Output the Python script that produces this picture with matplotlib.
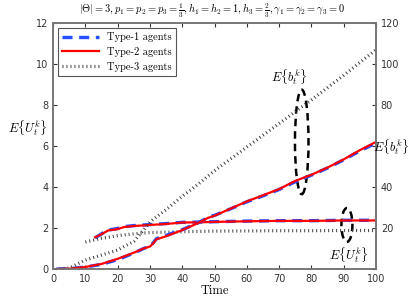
import matplotlib
matplotlib.use("Agg")
import matplotlib.pyplot as plt
import numpy as np
from matplotlib.patches import Ellipse

plt.rcParams['mathtext.fontset'] = 'cm'

# E{U_t^k} curves (left axis)
t_u = [13, 15, 17, 20, 22, 25, 30, 35, 40, 45, 50, 60, 70, 80, 90, 100]
u_type1 = [1.52, 1.72, 1.9, 1.98, 2.07, 2.12, 2.17, 2.22, 2.28, 2.29, 2.31, 2.34, 2.36, 2.36, 2.38, 2.38]
u_type2 = [1.55, 1.7, 1.88, 1.95, 2.05, 2.1, 2.15, 2.2, 2.27, 2.28, 2.3, 2.33, 2.35, 2.35, 2.37, 2.37]
t_u3 = [10, 15, 20, 25, 30, 40, 50, 60, 70, 80, 90, 100]
u_type3 = [1.32, 1.5, 1.63, 1.72, 1.78, 1.82, 1.85, 1.86, 1.87, 1.87, 1.88, 1.88]

# E{b_t^k} curves (right axis)
t_b = [1, 5, 10, 15, 20, 25, 28, 30, 31, 32, 35, 40, 45, 48, 50, 55, 60, 65, 70, 75, 80, 85, 90, 95, 100]
b_type1 = [0, 0.2, 1.0, 2.3, 4.6, 7.8, 10.0, 11.2, 12.8, 14.8, 16.4, 19.2, 22.6, 25.2, 26.2, 29.4, 32.8, 35.7, 38.8, 42.6, 45.8, 49.3, 53.3, 57.6, 61.5]
b_type2 = [0, 0.2, 1.0, 2.5, 5.0, 8.0, 10.0, 11.0, 12.5, 14.5, 16.0, 19.0, 22.5, 25.0, 26.0, 29.5, 33.0, 36.0, 39.0, 43.0, 46.0, 49.5, 53.5, 58.0, 62.0]
t_b3 = [2, 5, 10, 15, 20, 25, 28, 30, 35, 40, 45, 50, 60, 70, 80, 90, 100]
b_type3 = [0, 0.5, 4.4, 6.8, 9.3, 13.5, 19.0, 23.0, 29.0, 35.5, 41.5, 48.0, 59.5, 71.0, 82.5, 94.5, 107.0]

fig = plt.figure(figsize=(4.15, 3.03), dpi=100)
ax = fig.add_axes([0.128, 0.112, 0.778, 0.812])
ax2 = ax.twinx()

blue = (0.15, 0.3, 1.0)
dot = dict(color='#3a3a3a', lw=2.3, dashes=(0.3, 0.95), dash_capstyle='butt')

l1, = ax.plot(t_u, u_type1, color=blue, lw=2.4, dashes=(3, 2))
l2, = ax.plot(t_u, u_type2, color='red', lw=1.6)
l3, = ax.plot(t_u3, u_type3, **dot)
ax2.plot(t_b, b_type1, color=blue, lw=2.4, dashes=(3, 2))
ax2.plot(t_b, b_type2, color='red', lw=1.6)
ax2.plot(t_b3, b_type3, **dot)

# ellipses marking the curve groups
ax2.add_patch(Ellipse((77, 62), 4.2, 51, fill=False, ec='black', lw=1.8, ls=(0, (3, 2))))
ax.add_patch(Ellipse((91, 2.15), 3.4, 1.65, fill=False, ec='black', lw=1.8, ls=(0, (3, 2))))

ax.set_xlim(0, 100)
ax.set_ylim(0, 12)
ax2.set_ylim(0, 120)
ax.set_xticks(range(0, 101, 10))
ax.set_yticks(range(0, 13, 2))
ax2.set_yticks(range(0, 121, 20))
ax2.set_yticklabels(['', '20', '40', '', '80', '100', '120'])

for a in (ax, ax2):
    a.tick_params(direction='in', labelsize=7, length=3, colors='#333333', top=True)
    for s in a.spines.values():
        s.set_color('#777777')
        s.set_linewidth(1.2)

ax.set_xlabel('Time', fontfamily='cmr10', fontsize=9, labelpad=1)
fig.text(0.068, 0.578, r'$E\{U_t^k\}$', fontsize=9, ha='center', va='center')
fig.text(0.943, 0.515, r'$E\{b_t^k\}$', fontsize=9, ha='center', va='center')
ax2.text(73, 93.5, r'$E\{b_t^k\}$', fontsize=9, ha='center', va='center')
ax.text(91.5, 0.7, r'$E\{U_t^k\}$', fontsize=9, ha='center', va='center')

fig.suptitle(r'$|\Theta|=3, p_1=p_2=p_3=\frac{1}{3}, h_1=h_2=1, h_3=\frac{2}{3}, \gamma_1=\gamma_2=\gamma_3=0$',
             x=0.51, y=0.995, fontsize=7.5)

leg = ax.legend([l1, l2, l3], ['Type-1 agents', 'Type-2 agents', 'Type-3 agents'],
                loc='upper left', prop={'family': 'cmr10', 'size': 7.5}, fancybox=False,
                framealpha=1, edgecolor='#555555', handlelength=3.5, borderaxespad=0.5,
                labelspacing=0.45)
leg.get_frame().set_linewidth(0.8)

fig.savefig('out.png', dpi=100)
